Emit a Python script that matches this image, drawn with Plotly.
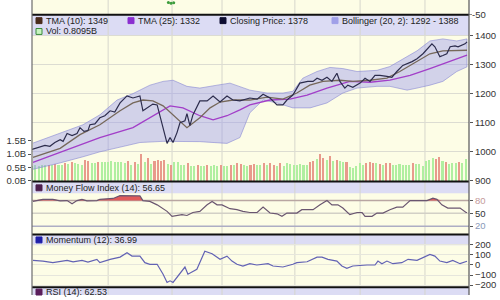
import plotly.graph_objects as go

# ---------------- data ----------------
close_x = [0, 2.1, 3.9, 5.4, 6.9, 8.5, 9.4, 10.6, 12.1, 13.6, 14.5, 15.7, 16.9, 17.5, 19.0, 20.5, 22.0, 23.6, 25.0,
           26.6, 28.7, 30.5, 32.6, 33.5, 35.0, 36.5, 37.8, 39.6, 40.8, 41.7, 42.6, 43.8, 44.7, 46.2, 46.8, 47.7,
           48.6, 50.7, 52.9, 54.7, 56.8, 58.9, 60.7, 62.8, 64.9, 65.8, 68.0, 69.8, 71.9, 74.0, 75.8, 77.0, 78.8,
           80.9, 83.3, 84.9, 86.1, 87.6, 89.1, 90.6, 92.1, 93.0, 94.5, 95.4, 96.9, 99.1, 100.6, 102.1, 103.6,
           105.1, 107.2, 108.7, 110.2, 112.0, 114.8, 116.3, 118.1, 120.8, 121.7, 123.2, 124.1, 125.3, 126.3,
           127.8, 128.7, 130.8, 131.4]
close_y = [1008, 1015, 1022, 1019, 1032, 1042, 1036, 1063, 1056, 1063, 1083, 1070, 1073, 1093, 1096, 1117, 1124, 1141,
           1137, 1168, 1192, 1185, 1192, 1141, 1151, 1164, 1161, 1083, 1029, 1049, 1032, 1066, 1100, 1107, 1131,
           1090, 1127, 1175, 1175, 1192, 1171, 1192, 1178, 1175, 1181, 1185, 1181, 1198, 1185, 1161, 1161, 1178,
           1195, 1236, 1242, 1242, 1253, 1246, 1256, 1242, 1270, 1242, 1219, 1229, 1222, 1236, 1253, 1242, 1263,
           1263, 1259, 1256, 1276, 1297, 1310, 1320, 1337, 1371, 1361, 1327, 1331, 1337, 1361, 1364, 1361, 1371,
           1378]

tma10_x = [0.3, 8.5, 14.5, 20.5, 26.6, 30.5, 33.5, 36.5, 39.6, 42.6, 46.8, 50.7, 53.8, 56.8, 60.7, 65.8, 71.0,
           75.8, 80.0, 83.9, 87.9, 93.0, 96.9, 102.1, 107.2, 111.1, 116.3, 120.2, 124.1, 128.3, 131.4]
tma10_y = [981, 1012, 1059, 1093, 1141, 1168, 1178, 1175, 1158, 1127, 1083, 1117, 1151, 1171, 1178, 1178, 1188,
           1181, 1202, 1229, 1242, 1246, 1242, 1246, 1253, 1276, 1310, 1337, 1347, 1347, 1349]

tma25_x = [0.3, 10.6, 20.5, 30.5, 36.5, 41.7, 45.6, 50.7, 54.7, 58.9, 62.8, 65.8, 71.9, 77.9, 83.1, 89.1, 96.0,
           102.1, 108.1, 114.2, 120.2, 126.2, 131.4]
tma25_y = [964, 1008, 1049, 1083, 1124, 1158, 1151, 1124, 1110, 1124, 1144, 1161, 1178, 1181, 1195, 1219, 1242,
           1239, 1246, 1263, 1286, 1310, 1332]

boll_up_x = [0.3, 8.5, 15.4, 20.5, 25.7, 30.5, 35.6, 39.6, 42.6, 46.8, 50.7, 55.9, 59.8, 65.8, 71.0, 75.8, 78.8,
             81.8, 86.1, 90.0, 93.9, 98.2, 104.2, 108.1, 112.0, 116.3, 120.2, 124.1, 128.3, 131.4]
boll_up_y = [1030, 1063, 1093, 1127, 1178, 1200, 1229, 1242, 1246, 1225, 1219, 1229, 1236, 1212, 1202, 1202, 1208,
             1253, 1276, 1290, 1286, 1276, 1280, 1293, 1320, 1347, 1381, 1388, 1381, 1388]
boll_lo_x = [0.3, 8.5, 15.4, 20.5, 26.6, 32.6, 39.6, 50.7, 58.9, 62.8, 65.8, 69.8, 74.0, 78.8, 84.0, 89.1, 93.9,
             98.2, 104.2, 108.1, 113.3, 116.3, 120.2, 124.1, 128.3, 131.4]
boll_lo_y = [940, 962, 983, 1000, 1017, 1032, 1036, 1035, 1029, 1049, 1134, 1178, 1168, 1151, 1151, 1168, 1202,
             1219, 1225, 1225, 1212, 1219, 1229, 1242, 1276, 1292]

volume = [0.55, 0.60, 0.58, 0.62, 0.60, 0.62, 0.60, 0.65, 0.62, 0.60,
          0.68, 0.63, 0.70, 0.66, 0.65, 0.62, 0.80, 0.75, 0.68, 0.66,
          0.72, 0.70, 0.70, 0.72, 0.74, 0.70, 0.72, 0.70, 0.68, 0.75,
          0.62, 0.72, 0.65, 1.00, 0.70, 0.85, 0.65, 0.75, 0.78, 0.75,
          0.80, 0.65, 0.60, 0.72, 0.70, 0.62, 0.60, 0.68, 0.58, 0.55,
          0.62, 0.58, 0.55, 0.60, 0.56, 0.60, 0.58, 0.62, 0.58, 0.56,
          0.62, 0.60, 0.68, 0.65, 0.60, 0.58, 0.62, 0.65, 0.60, 0.62,
          0.66, 0.60, 0.68, 0.62, 0.58, 0.66, 0.56, 0.66, 0.63, 0.62,
          0.62, 0.63, 0.62, 0.60, 0.70, 0.75, 0.82, 1.02, 0.88, 0.78,
          0.92, 0.76, 0.78, 0.74, 0.70, 0.72, 0.52, 0.50, 0.55, 0.66,
          0.62, 0.68, 0.70, 0.68, 0.66, 0.65, 0.60, 0.66, 0.66, 0.62,
          0.60, 0.64, 0.62, 0.62, 0.60, 0.68, 0.64, 0.64, 0.58, 0.74,
          0.80, 0.86, 0.84, 0.90, 0.75, 0.70, 0.64, 0.66, 0.66, 0.70,
          0.66, 0.81]
down_days = [5, 7, 10, 12, 16, 17, 20, 29, 31, 33, 35, 37, 38, 39, 40, 42, 47, 50, 53, 57, 60, 62, 63, 66, 67,
             70, 72, 73, 75, 84, 85, 87, 88, 90, 92, 95, 101, 102, 103, 105, 107, 108, 115, 122, 123, 125, 129]

mfi_x = [0.3, 3.3, 6.3, 8.5, 10.6, 12.1, 13.6, 15.1, 16.6, 19.6, 20.5, 24.5, 26.6, 32.6, 33.5, 35.6, 37.8, 40.8,
         42.3, 43.8, 45.3, 46.8, 48.6, 50.7, 52.9, 54.4, 55.9, 57.4, 59.8, 61.9, 63.7, 65.8, 68.0, 69.8, 71.9,
         74.0, 75.5, 77.0, 80.0, 81.5, 84.9, 87.0, 89.1, 90.6, 92.4, 93.9, 96.0, 98.2, 99.7, 100.6, 102.7, 104.2,
         106.0, 108.1, 110.2, 112.0, 114.2, 119.3, 121.1, 122.3, 123.8, 125.6, 127.8, 129.3, 131.1, 131.4]
mfi_y = [78, 83, 83, 79.5, 80, 72.5, 80, 83, 79.5, 80, 83, 85, 91.7, 91, 80, 78, 70, 54.7,
         43, 45, 47, 45, 52, 54.7, 70, 78, 70, 70, 61, 58.6, 54.7, 52, 52, 64.7, 50.8,
         49, 43, 50.8, 50.8, 58.6, 58.6, 70, 80, 70, 70, 62.4, 47, 52, 52, 43, 43, 50.8,
         50.8, 58.6, 64.7, 64.7, 80, 80, 85.5, 83, 70, 62.4, 62.4, 62.4, 52, 52]

mom_x = [0.3, 3.3, 6.3, 8.5, 10.6, 12.4, 15.1, 16.9, 19.6, 20.5, 23.6, 26.6, 28.7, 30.2, 32.6, 34.1, 35.6, 37.8,
         39.6, 40.8, 41.7, 42.6, 45.3, 46.2, 47.1, 49.8, 52.2, 54.4, 56.8, 57.7, 58.9, 60.4, 61.9, 63.7, 65.8,
         67.9, 69.8, 71.3, 72.8, 75.8, 78.8, 80.0, 83.1, 86.1, 87.6, 89.4, 92.1, 93.6, 95.1, 96.9, 101.2, 103.6,
         104.5, 105.7, 107.2, 109.0, 111.7, 113.6, 116.3, 118.1, 120.2, 121.7, 123.2, 125.3, 127.1, 129.3, 131.4]
mom_y = [46, 39, 23, 32, 46, 32, 46, 29, 56, 23, 56, 78, 121, 88, 88, 23, 7, 7,
         -91, -173, -157, -173, -59, -20, -91, -42, 137, 111, 56, 72, 88, 39, 7, -10, 13,
         0, 7, 13, -10, -20, 7, 23, 32, 78, 78, 56, 39, -10, -33, -10, 0, 0,
         39, 13, 39, 13, 23, 56, 46, 72, 105, 88, 39, 23, 46, 13, 37]

top_x = [41.2, 42.0, 42.8]
top_y = [-4, -7, -5]

month_lines = [23.0, 42.3, 57.4, 79.4, 99.1, 118.7]
price_ticks = [900, 1000, 1100, 1200, 1300, 1400]
vol_ticks = [0, 0.5, 1.0, 1.5]
vol_tick_text = ["0.0B", "0.5B", "1.0B", "1.5B"]
mfi_ticks = [20, 50, 80]
mom_ticks = [-200, -100, 0, 100, 200]
top_tick = -50

main_legend = [("TMA (10): 1349", "#4a2c1c"), ("TMA (25): 1332", "#8a2fd0"),
               ("Closing Price: 1378", "#0c0c30"), ("Bollinger (20, 2): 1292 - 1388", "#a0a0e8")]
vol_legend = "Vol: 0.8095B"
mfi_legend = "Money Flow Index (14): 56.65"
mom_legend = "Momentum (12): 36.99"
rsi_legend = "RSI (14): 62.53"

# ---------------- layout helpers ----------------
W, H, L, R = 500, 300, 32, 469


def px_x(px):
    return (px - L) / (R - L)


def px_y(py):
    return 1 - py / H


FONT = "Liberation Sans, Arial, sans-serif"
YELLOW = "#fdfde6"
LAV = "#dcdcf4"

fig = go.Figure()

# volume bars (base of main panel)
vol_colors = ["#e89a8c" if i in down_days else "#b0efa0" for i in range(len(volume))]
fig.add_trace(go.Bar(x=list(range(len(volume))), y=volume, marker=dict(color=vol_colors, line=dict(width=0)),
                     width=0.62, xaxis="x", yaxis="y2", hoverinfo="skip"))

# Bollinger band polygon
bx = boll_up_x + boll_lo_x[::-1]
by = boll_up_y + boll_lo_y[::-1]
fig.add_trace(go.Scatter(x=bx, y=by, fill="toself", fillcolor="rgba(150,150,238,0.42)",
                         line=dict(color="rgba(130,130,210,0.7)", width=0.8), mode="lines",
                         xaxis="x", yaxis="y3", hoverinfo="skip"))
fig.add_trace(go.Scatter(x=tma25_x, y=tma25_y, mode="lines", line=dict(color="#a23ec8", width=1.3),
                         xaxis="x", yaxis="y3"))
fig.add_trace(go.Scatter(x=tma10_x, y=tma10_y, mode="lines", line=dict(color="#76685a", width=1.3),
                         xaxis="x", yaxis="y3"))
fig.add_trace(go.Scatter(x=close_x, y=close_y, mode="lines", line=dict(color="#2c2c4c", width=1.2),
                         xaxis="x", yaxis="y3"))

# top panel remnants
fig.add_trace(go.Scatter(x=top_x, y=top_y, mode="markers", marker=dict(color="#3c9c3c", size=3),
                         xaxis="x", yaxis="y"))

# MFI with red fill above 80
fig.add_trace(go.Scatter(x=mfi_x, y=[80] * len(mfi_x), mode="lines", line=dict(width=0),
                         xaxis="x", yaxis="y4", hoverinfo="skip"))
fig.add_trace(go.Scatter(x=mfi_x, y=[max(v, 80) for v in mfi_y], mode="lines", line=dict(width=0),
                         fill="tonexty", fillcolor="#e05a5a", xaxis="x", yaxis="y4", hoverinfo="skip"))
fig.add_trace(go.Scatter(x=mfi_x, y=mfi_y, mode="lines", line=dict(color="#6a5670", width=1.2),
                         xaxis="x", yaxis="y4"))

# Momentum
fig.add_trace(go.Scatter(x=mom_x, y=mom_y, mode="lines", line=dict(color="#6262b4", width=1.2),
                         xaxis="x", yaxis="y5"))

shapes = []
# backgrounds
shapes.append(dict(type="rect", xref="paper", yref="paper", x0=0, x1=1, y0=0, y1=1,
                   fillcolor=YELLOW, line=dict(width=0), layer="below"))
for a, b in [(15, 36), (185, 196.5), (238, 249.5), (292, 300)]:
    shapes.append(dict(type="rect", xref="paper", yref="paper", x0=0, x1=1, y0=px_y(b), y1=px_y(a),
                       fillcolor=LAV, line=dict(width=0), layer="below"))
# vertical month lines
for m in month_lines:
    shapes.append(dict(type="line", xref="x", yref="paper", x0=m, x1=m, y0=0, y1=1,
                       line=dict(color="#d6d6cc", width=1), layer="below"))
# MFI level lines
for lv, col in [(80, "#b9a6a2"), (50, "#d2d0c6"), (20, "#aeaec4")]:
    shapes.append(dict(type="line", xref="paper", yref="y4", x0=0, x1=1, y0=lv, y1=lv,
                       line=dict(color=col, width=1.5), layer="below"))
# panel separators
for py in [15, 184.5, 238.5, 292]:
    shapes.append(dict(type="line", xref="paper", yref="paper", x0=0, x1=1, y0=px_y(py), y1=px_y(py),
                       line=dict(color="#111111", width=2), layer="above"))
# left border and right axis line
shapes.append(dict(type="line", xref="paper", yref="paper", x0=0, x1=0, y0=0, y1=1,
                   line=dict(color="#6c6c6c", width=1.2), layer="above"))
shapes.append(dict(type="line", xref="paper", yref="paper", x0=1, x1=1, y0=0, y1=1,
                   line=dict(color="#555555", width=1.2), layer="above"))
# tick mark for the top panel's -50
shapes.append(dict(type="line", xref="paper", yref="y", x0=1, x1=px_x(R + 3), y0=top_tick, y1=top_tick,
                   line=dict(color="#555555", width=1), layer="above"))

annotations = []


def legend_item(px, py, text, color, hollow=False):
    shapes.append(dict(type="rect", xref="paper", yref="paper",
                       x0=px_x(px), x1=px_x(px + 6), y0=px_y(py + 3), y1=px_y(py - 3),
                       fillcolor=("#c8f4c0" if hollow else color),
                       line=dict(color=("#3a8a3a" if hollow else color), width=1), layer="above"))
    annotations.append(dict(x=px_x(px + 8), y=px_y(py), xref="paper", yref="paper", text=text,
                            showarrow=False, xanchor="left", yanchor="middle",
                            font=dict(family=FONT, size=9, color="#222222")))


for (txt, col), px in zip(main_legend, [36, 128, 220, 332]):
    legend_item(px, 21, txt, col)
legend_item(36, 32, vol_legend, "#c8f4c0", hollow=True)
legend_item(36, 191, mfi_legend, "#4d1f4d")
legend_item(36, 244, mom_legend, "#1f1fa8")
legend_item(36, 297, rsi_legend, "#5a1d5a")

tickfont = dict(family=FONT, size=9.5, color="#333333")
annotations.append(dict(x=px_x(R + 3), y=top_tick, xref="paper", yref="y", text=str(top_tick),
                        showarrow=False, xanchor="left", yanchor="middle", xshift=-1,
                        font=tickfont, borderpad=0))

common_y = dict(side="right", anchor="x", ticks="outside", ticklen=3, tickcolor="#555",
                showline=False, zeroline=False, tickfont=tickfont, fixedrange=True,
                ticklabeloverflow="allow")

fig.update_layout(
    width=W, height=H, margin=dict(l=L, r=W - R, t=0, b=0),
    paper_bgcolor="white", plot_bgcolor="rgba(0,0,0,0)",
    showlegend=False, bargap=0, shapes=shapes, annotations=annotations,
    xaxis=dict(domain=[0, 1], range=[0, 132], showgrid=False, zeroline=False, showticklabels=False,
               showline=False, ticks="", anchor="y5"),
    yaxis=dict(domain=[px_y(15), 1], range=[-50.5, 5], showticklabels=False, ticks="", showgrid=False,
               zeroline=False, showline=False, anchor="x", side="right", fixedrange=True),
    yaxis2=dict(domain=[px_y(184), px_y(15)], range=[0, 6.19], side="left", anchor="x", ticks="outside",
                ticklen=3, tickcolor="#555", tickvals=vol_ticks, ticktext=vol_tick_text, showgrid=False,
                zeroline=False, showline=False, tickfont=tickfont, ticklabeloverflow="allow"),
    yaxis3=dict(overlaying="y2", range=[900, 1471], tickvals=price_ticks, showgrid=True,
                gridcolor="#dcdcd2", gridwidth=1, **common_y),
    yaxis4=dict(domain=[px_y(238), px_y(185)], range=[1.5, 123.8], tickvals=mfi_ticks,
                ticktext=['<span style="color:#8898b8">20</span>', "50",
                          '<span style="color:#c49a9a">80</span>'], showgrid=False, **common_y),
    yaxis5=dict(domain=[px_y(292), px_y(238)], range=[-219.5, 307], tickvals=mom_ticks,
                showgrid=True, gridcolor="#e6e6dc", **common_y),
)

fig.write_html("out.html")
